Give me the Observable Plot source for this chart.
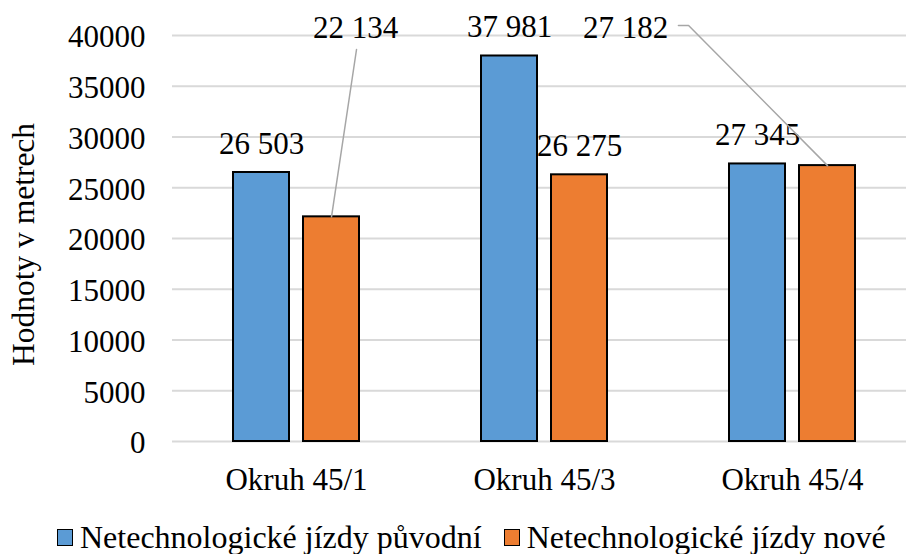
<!DOCTYPE html>
<html><head><meta charset="utf-8">
<script src="https://cdn.jsdelivr.net/npm/d3@7"></script>
<script src="https://cdn.jsdelivr.net/npm/@observablehq/plot@0.6"></script>
<style>
html,body{margin:0;padding:0;background:#fff;overflow:hidden;}
#chart{width:906px;height:554px;position:relative;font-family:"Liberation Serif","Times New Roman",Tinos,serif;}
.legend{display:flex;justify-content:flex-start;align-items:center;height:42px;padding-top:8px;padding-left:57px;box-sizing:border-box;font-size:32px;color:#000;white-space:nowrap;}
.item{display:flex;align-items:center;margin-right:22px;}
.sw{display:inline-block;width:14px;height:15px;border:1.5px solid #000;margin-right:7px;}
</style></head><body><div id="chart"></div>
<script>
// ---- data ----
const categories = ["Okruh 45/1", "Okruh 45/3", "Okruh 45/4"];
const seriesNames = ["Netechnologické jízdy původní", "Netechnologické jízdy nové"];
const puvodni = [26503, 37981, 27345];
const nove = [22134, 26275, 27182];
const yTicks = [0, 5000, 10000, 15000, 20000, 25000, 30000, 35000, 40000];
const yTitle = "Hodnoty v metrech";
const colors = ["#5B9BD5", "#ED7D31"];

// labels that were moved away from their bars (label position in data units + leader path)
const movedLabels = [
  {cat: 0, s: 1, lx: 0.738, ly: 40690, path: [[0.742, 38620]]},
  {cat: 2, s: 1, lx: 1.827, ly: 40690, path: [[2.040, 40985], [2.081, 40985]]}
];

// ---- layout (in category units) ----
const FONT = '"Liberation Serif","Times New Roman",Tinos,serif';
const halfGap = 7 / 248, barW = 56 / 248;
const fmt = v => d3.format(",")(v).replace(/,/g, " ");
const seriesValues = [puvodni, nove];

const bars = [];
seriesValues.forEach((vals, s) => vals.forEach((v, i) => {
  const c = i + 0.5;
  const x1 = s === 0 ? c - halfGap - barW : c + halfGap;
  bars.push({cat: i, s, value: v, x1, x2: x1 + barW, xc: x1 + barW / 2, color: colors[s]});
}));
const isMoved = b => movedLabels.some(m => m.cat === b.cat && m.s === b.s);
const normalLabels = bars.filter(b => !isMoved(b));
const leaderPts = [];
movedLabels.forEach((m, k) => {
  const b = bars.find(b => b.cat === m.cat && b.s === m.s);
  m.path.forEach(p => leaderPts.push({k, x: p[0], y: p[1]}));
  leaderPts.push({k, x: b.xc, y: b.value});
  m.text = fmt(b.value);
});

const plot = Plot.plot({
  width: 906, height: 512,
  marginTop: 35, marginBottom: 71, marginLeft: 172, marginRight: -10,
  style: {fontFamily: FONT, fontSize: "31px", color: "#000", background: "#fff", overflow: "visible"},
  x: {type: "linear", domain: [0, 3], axis: null},
  y: {domain: [0, 40000], axis: null},
  marks: [
    Plot.ruleY(yTicks, {stroke: "#d9d9d9", strokeWidth: 2}),
    Plot.rectY(bars.filter(b => b.s === 0), {x1: "x1", x2: "x2", y1: 0, y2: "value", fill: colors[0], stroke: "#000", strokeWidth: 2}),
    Plot.rectY(bars.filter(b => b.s === 1), {x1: "x1", x2: "x2", y1: 0, y2: "value", fill: colors[1], stroke: "#000", strokeWidth: 2}),
    Plot.axisY({ticks: yTicks, tickSize: 0, tickPadding: 27, dy: 2, tickFormat: d => String(d), fontSize: 31, fontFamily: FONT, label: null}),
    Plot.axisX({ticks: [0.5, 1.5, 2.5], tickSize: 0, tickPadding: 26, tickFormat: d => categories[Math.floor(d)], fontSize: 31, fontFamily: FONT, label: null}),
    Plot.text([yTitle], {frameAnchor: "left", textAnchor: "middle", rotate: -90, dx: -149, dy: 6, fontSize: 31.5, fontFamily: FONT, fill: "#000"}),
    Plot.text(normalLabels, {x: "xc", y: "value", text: d => fmt(d.value), dy: -28.5, fontSize: 31, fontFamily: FONT, fill: "#000"}),
    Plot.line(leaderPts, {x: "x", y: "y", z: "k", stroke: "#A6A6A6", strokeWidth: 1.5}),
    Plot.text(movedLabels, {x: "lx", y: "ly", text: "text", fontSize: 31, fontFamily: FONT, fill: "#000"})
  ]
});

const chart = document.getElementById("chart");
chart.appendChild(plot);
const legend = document.createElement("div");
legend.className = "legend";
seriesNames.forEach((name, s) => {
  const item = document.createElement("span");
  item.className = "item";
  const sw = document.createElement("span");
  sw.className = "sw";
  sw.style.background = colors[s];
  item.appendChild(sw);
  item.appendChild(document.createTextNode(name));
  legend.appendChild(item);
});
chart.appendChild(legend);
</script></body></html>
